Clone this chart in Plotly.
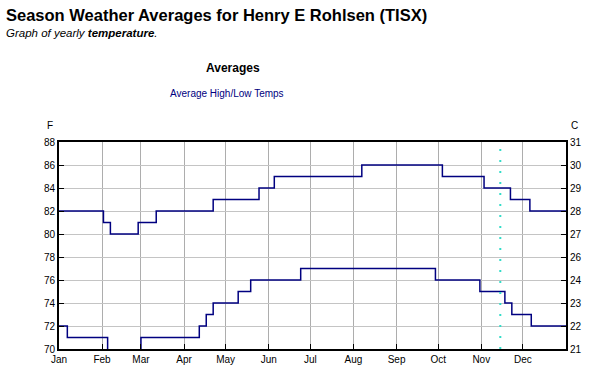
import plotly.graph_objects as go

# ---- data ----
month_labels = ["Jan", "Feb", "Mar", "Apr", "May", "Jun", "Jul", "Aug", "Sep", "Oct", "Nov", "Dec"]
month_start_days = [0, 31, 59, 90, 120, 151, 181, 212, 243, 273, 304, 334]

high_days = [0, 32, 37, 57, 70, 111, 144, 155, 218, 276, 306, 325, 339, 365]
high_temps_f = [82, 81, 80, 81, 82, 83, 84, 85, 86, 85, 84, 83, 82, 82]

low_days = [0, 6, 35, 59, 101, 106, 111, 129, 138, 174, 271, 303, 321, 326, 340, 365]
low_temps_f = [72, 71, 69.5, 71, 72, 73, 74, 75, 76, 77, 76, 75, 74, 73, 72, 72]

f_ticks = [70, 72, 74, 76, 78, 80, 82, 84, 86, 88]
c_tick_labels = ["21", "22", "23", "24", "26", "27", "28", "29", "30", "31"]
today_day = 317.7

# ---- layout geometry (pixels) ----
W, H = 589, 369
L, R, T, B = 59, 23, 142, 20
PW, PH = W - L - R, H - T - B

def px(xp):
    return (xp - L) / PW

def py(yp):
    return (H - B - yp) / PH

FONT = "Liberation Sans, Arial, sans-serif"
LINE_COLOR = "#000080"

fig = go.Figure()
fig.add_trace(go.Scatter(x=high_days, y=high_temps_f, mode="lines", line=dict(color=LINE_COLOR, width=1.5, shape="hv"),
                         hoverinfo="skip", showlegend=False))
fig.add_trace(go.Scatter(x=low_days, y=low_temps_f, mode="lines", line=dict(color=LINE_COLOR, width=1.5, shape="hv"),
                         hoverinfo="skip", showlegend=False))
fig.add_trace(go.Scatter(x=[None], y=[None], yaxis="y2", showlegend=False, hoverinfo="skip"))

fig.add_shape(type="line", xref="x", yref="paper", x0=today_day, x1=today_day, y0=0, y1=1,
              line=dict(color="#33dcc8", width=2, dash="2px,9px"), layer="above")

axis_common = dict(showline=True, linecolor="black", linewidth=2, gridwidth=1,
                   zeroline=False, tickfont=dict(family=FONT, size=10, color="black"), ticklen=5,
                   tickcolor="black", layer="above traces", automargin=False, ticks="inside")

fig.update_layout(
    width=W, height=H, margin=dict(l=L, r=R, t=T, b=B, autoexpand=False),
    paper_bgcolor="white", plot_bgcolor="white",
    xaxis=dict(range=[0, 365], tickvals=month_start_days, ticktext=month_labels,
               mirror=True, showgrid=True, gridcolor="#adadad", **axis_common),
    yaxis=dict(range=[70, 88], tickvals=f_ticks, showgrid=True, gridcolor="#c4c4c4", **axis_common),
    yaxis2=dict(range=[70, 88], tickvals=f_ticks, ticktext=c_tick_labels, overlaying="y", side="right",
                showgrid=False, **axis_common),
    annotations=[
        dict(text="<b>Season Weather Averages for Henry E Rohlsen (TISX)</b>", xref="paper", yref="paper",
             x=px(4), y=py(15), xanchor="left", yanchor="middle", showarrow=False,
             font=dict(family=FONT, size=16.5, color="black")),
        dict(text="<i>Graph of yearly <b>temperature</b>.</i>", xref="paper", yref="paper",
             x=px(4), y=py(33), xanchor="left", yanchor="middle", showarrow=False,
             font=dict(family=FONT, size=11.5, color="black")),
        dict(text="<b>Averages</b>", xref="paper", yref="paper", x=px(233), y=py(68),
             xanchor="center", yanchor="middle", showarrow=False, font=dict(family=FONT, size=12, color="black")),
        dict(text="Average High/Low Temps", xref="paper", yref="paper", x=px(227), y=py(93),
             xanchor="center", yanchor="middle", showarrow=False, font=dict(family=FONT, size=10, color="#000080")),
        dict(text="F", xref="paper", yref="paper", x=px(50), y=py(125),
             xanchor="center", yanchor="middle", showarrow=False, font=dict(family=FONT, size=10, color="black")),
        dict(text="C", xref="paper", yref="paper", x=px(574), y=py(125),
             xanchor="center", yanchor="middle", showarrow=False, font=dict(family=FONT, size=10, color="black")),
    ],
)

fig.write_html("out.html", config={"displayModeBar": False},
               post_script="document.body.style.margin='0px';")
